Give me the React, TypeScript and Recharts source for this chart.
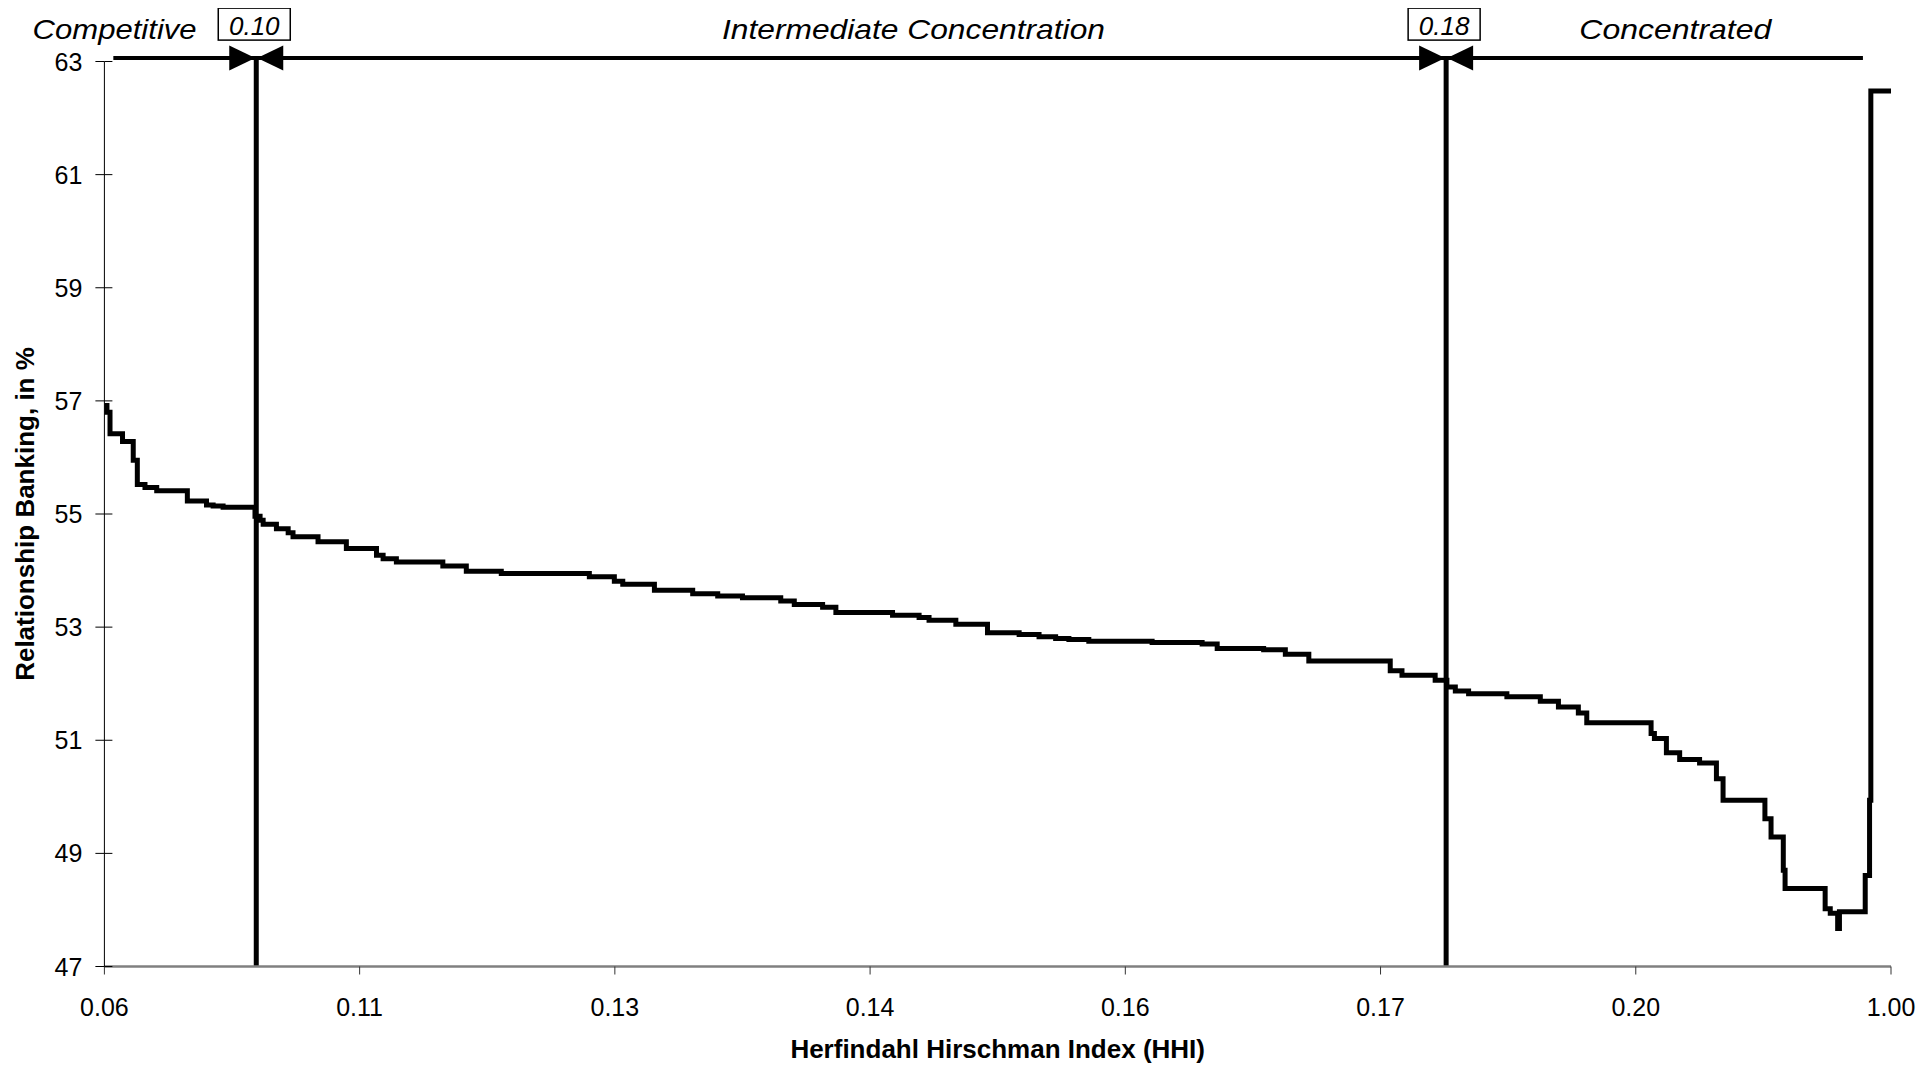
import React from 'react';
import { LineChart, Line, XAxis, YAxis, ReferenceLine, ReferenceDot } from 'recharts';

const FONT = '"Liberation Sans", Arial, Helvetica, sans-serif';

// x axis: observations ranked by HHI, labels every 100 ranks
const hhiLabels = ['0.06', '0.11', '0.13', '0.14', '0.16', '0.17', '0.20', '1.00'];
const rankTicks = [0, 100, 200, 300, 400, 500, 600, 700];
const shareTicks = [47, 49, 51, 53, 55, 57, 59, 61, 63];

// step points of the relationship banking curve (rank, share in %)
const ranks = [
    0, 1, 2.2, 7.1, 11.3, 12.9, 15.9, 20.5, 32.5, 40,
    42.6, 46.5, 59, 61, 62.2, 67.4, 72, 73.9, 83.7, 94.8,
    106.6, 109.2, 114.4, 132.6, 141.8, 155.5, 190, 199.8, 203.1, 215.5,
    230.5, 240.3, 250, 265, 270.3, 281.4, 286.6, 308.8, 319.2, 323.1,
    333.6, 346, 358.4, 366.2, 372.7, 377.9, 385.7, 410.5, 430.1, 436,
    454.2, 462.7, 471.9, 503.8, 508.4, 521.4, 526, 529.3, 534.5, 549.5,
    562.6, 569.7, 577.5, 580.8, 606, 607.3, 612, 617.2, 625, 631.6,
    634.2, 650.6, 653, 657.8, 658.5, 674.2, 676.2, 679.1, 679.8, 689.9,
    691.6, 692.1, 700,
];
const shares = [
    56.92, 56.8, 56.42, 56.28, 55.95, 55.52, 55.47, 55.41, 55.23, 55.16,
    55.14, 55.12, 54.96, 54.89, 54.82, 54.74, 54.67, 54.6, 54.51, 54.39,
    54.27, 54.21, 54.15, 54.08, 53.99, 53.95, 53.89, 53.81, 53.76, 53.65,
    53.59, 53.55, 53.52, 53.46, 53.4, 53.35, 53.26, 53.21, 53.17, 53.12,
    53.05, 52.9, 52.87, 52.83, 52.8, 52.78, 52.75, 52.73, 52.7, 52.62,
    52.6, 52.52, 52.4, 52.23, 52.15, 52.06, 51.94, 51.87, 51.82, 51.77,
    51.69, 51.59, 51.48, 51.31, 51.12, 51.03, 50.78, 50.66, 50.6, 50.32,
    49.94, 49.61, 49.29, 48.7, 48.38, 48.02, 47.94, 47.67, 47.97, 48.61,
    49.94, 62.48, 62.48,
];

// HHI thresholds and market structure regions (in rank units)
const thresholdRanks = [59.5, 525.7];
const thresholdLabels = ['0.10', '0.18'];
const regionRanks = [4, 317, 615.5];
const regionLabels = ['Competitive', 'Intermediate Concentration', 'Concentrated'];
const regionWidths = [164, 383, 192];
const bandLevel = 63.06;
const bandFrom = 3.5;
const bandTo = 689;

const chartData = ranks.map((r, i) => ({ rank: r, share: shares[i] }));

function ShareTick({ x, y, payload }: any) {
    return (
        <g>
            <line x1={x + 22} x2={x + 30} y1={y} y2={y} stroke="#000" strokeWidth={1} />
            <text x={x} y={y} dy="0.36em" textAnchor="end" fontSize={25} fontFamily={FONT} fill="#000">
                {payload.value}
            </text>
        </g>
    );
}

function ThresholdMark({ cx, cy, label }: any) {
    return (
        <g>
            <polygon points={`${cx - 27},${cy - 12.5} ${cx - 27},${cy + 12.5} ${cx - 1},${cy}`} fill="#000" />
            <polygon points={`${cx + 27},${cy - 12.5} ${cx + 27},${cy + 12.5} ${cx + 1},${cy}`} fill="#000" />
            <rect x={cx - 38} y={cy - 50} width={72} height={32} fill="#fff" stroke="#000" strokeWidth={1.5} />
            <text x={cx - 2} y={cy - 23} textAnchor="middle" fontStyle="italic" fontSize={26} fontFamily={FONT} fill="#000">
                {label}
            </text>
        </g>
    );
}

function RegionLabel({ cx, cy, label, width }: any) {
    return (
        <text
            x={cx}
            y={cy - 19}
            textAnchor="middle"
            fontStyle="italic"
            fontSize={28}
            fontFamily={FONT}
            fill="#000"
            textLength={width}
            lengthAdjust="spacingAndGlyphs"
        >
            {label}
        </text>
    );
}

function YTitle({ viewBox }: any) {
    const cx = viewBox.x + 25.6;
    const cy = viewBox.y + viewBox.height / 2;
    return (
        <text x={cx} y={cy} transform={`rotate(-90 ${cx} ${cy})`} textAnchor="middle"
            fontSize={26} fontWeight="bold" fontFamily={FONT} fill="#000">
            Relationship Banking, in %
        </text>
    );
}

function XTitle({ viewBox }: any) {
    const cx = viewBox.x + viewBox.width / 2;
    const cy = viewBox.y + 91.8;
    return (
        <text x={cx} y={cy} textAnchor="middle" fontSize={26} fontWeight="bold" fontFamily={FONT} fill="#000">
            Herfindahl Hirschman Index (HHI)
        </text>
    );
}

export default function App() {
    return (
        <LineChart
            width={1910}
            height={1061}
            data={chartData}
            margin={{ top: 53.5, right: 27, bottom: 0, left: 0 }}
            style={{ fontFamily: FONT }}
        >
            <XAxis
                type="number"
                dataKey="rank"
                domain={[0, 700]}
                ticks={rankTicks}
                interval={0}
                tickFormatter={(v: number) => hhiLabels[rankTicks.indexOf(v)]}
                height={102.5}
                tickSize={8}
                tickMargin={24}
                axisLine={{ stroke: '#808080', strokeWidth: 2.5 }}
                tickLine={{ stroke: '#333', strokeWidth: 1 }}
                tick={{ fontSize: 25, fill: '#000', fontFamily: FONT }}
                label={<XTitle />}
            />
            <YAxis
                type="number"
                domain={[47, 63]}
                ticks={shareTicks}
                interval={0}
                width={96.4}
                tickSize={9}
                tickMargin={13}
                axisLine={{ stroke: '#000', strokeWidth: 1 }}
                tickLine={{ stroke: '#000', strokeWidth: 1 }}
                tick={<ShareTick />}
                label={<YTitle />}
            />
            <ReferenceLine
                segment={[{ x: bandFrom, y: bandLevel }, { x: bandTo, y: bandLevel }]}
                stroke="#000"
                strokeWidth={4}
                ifOverflow="visible"
            />
            {thresholdRanks.map((t) => (
                <ReferenceLine
                    key={`v${t}`}
                    segment={[{ x: t, y: 47 }, { x: t, y: bandLevel }]}
                    stroke="#000"
                    strokeWidth={5}
                    ifOverflow="visible"
                />
            ))}
            <Line
                type="stepAfter"
                dataKey="share"
                stroke="#000"
                strokeWidth={5}
                dot={false}
                activeDot={false}
                isAnimationActive={false}
            />
            {thresholdRanks.map((t, i) => (
                <ReferenceDot
                    key={`m${t}`}
                    x={t}
                    y={bandLevel}
                    ifOverflow="visible"
                    shape={(p: any) => <ThresholdMark {...p} label={thresholdLabels[i]} />}
                />
            ))}
            {regionRanks.map((r, i) => (
                <ReferenceDot
                    key={`r${r}`}
                    x={r}
                    y={bandLevel}
                    ifOverflow="visible"
                    shape={(p: any) => <RegionLabel {...p} label={regionLabels[i]} width={regionWidths[i]} />}
                />
            ))}
        </LineChart>
    );
}
